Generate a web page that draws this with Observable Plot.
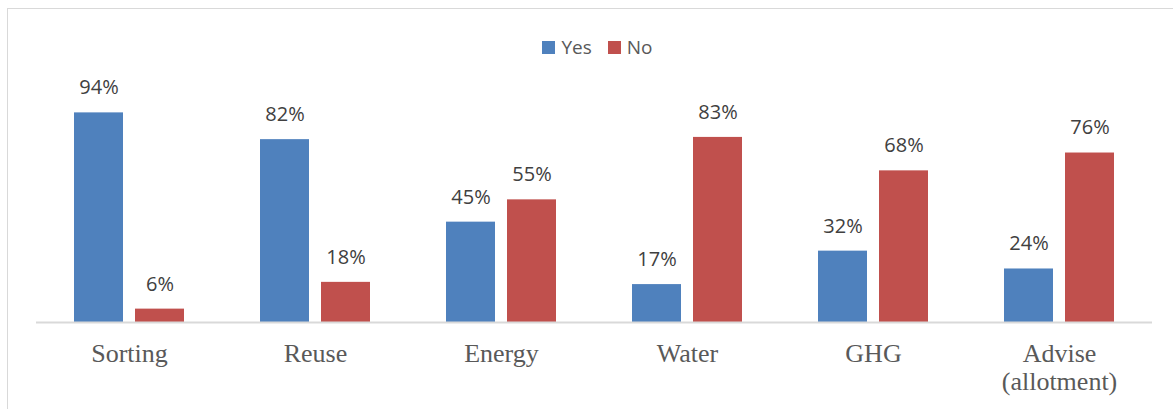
<!DOCTYPE html>
<html>
<head>
<meta charset="utf-8">
<script src="https://cdn.jsdelivr.net/npm/d3@7"></script>
<script src="https://cdn.jsdelivr.net/npm/@observablehq/plot@0.6"></script>
<style>
  html, body { margin: 0; padding: 0; background: #fff; }
  #wrap { position: relative; width: 1173px; height: 409px; overflow: hidden; }
  #frame { position: absolute; left: 7px; top: 8px; width: 1180px; height: 420px;
           border: 1.5px solid #d9d9d9; box-sizing: border-box; }
  #legend { position: absolute; top: 36px; left: 0; width: 1173px; display: flex;
            justify-content: center; gap: 16px; font-family: "Open Sans", sans-serif;
            font-size: 19px; color: #595959; line-height: 22px; padding-left: 22px; box-sizing: border-box; }
  #legend span.item { display: flex; align-items: center; gap: 6px; }
  #legend span.sw { width: 13px; height: 13px; display: inline-block; }
  #wrap svg { position: absolute; left: 0; top: 0; }
</style>
</head>
<body>
<div id="wrap">
  <div id="frame"></div>
  <div id="legend"></div>
</div>
<script>
// Survey responses by topic (percent answering Yes / No)
const categories = ["Sorting", "Reuse", "Energy", "Water", "GHG", "Advise\n(allotment)"];
const series = ["Yes", "No"];
const yesValues = [94, 82, 45, 17, 32, 24];
const noValues = [6, 18, 55, 83, 68, 76];
const seriesColors = ["#4f81bd", "#c0504d"];

const rows = categories.flatMap((c, i) => [
  {category: c, series: "Yes", value: yesValues[i]},
  {category: c, series: "No", value: noValues[i]}
]);

const chart = Plot.plot({
  width: 1173,
  height: 409,
  marginTop: 99,
  marginBottom: 87,
  marginLeft: 36,
  marginRight: 21,
  style: {background: "transparent", fontFamily: "Open Sans, sans-serif"},
  fx: {domain: categories, padding: 0, axis: null},
  x: {domain: series, paddingInner: 0.1935, paddingOuter: 0.5968, axis: null},
  y: {domain: [0, 100], axis: null},
  color: {domain: series, range: seriesColors},
  marks: [
    Plot.barY(rows, {fx: "category", x: "series", y: "value", fill: "series"}),
    Plot.ruleY([0], {stroke: "#d9d9d9", strokeWidth: 2}),
    Plot.text(rows, {
      fx: "category", x: "series", y: "value",
      text: d => d.value + "%", dy: -25,
      fontSize: 20, fill: "#404040", fontFamily: "Open Sans, sans-serif"
    }),
    Plot.text(categories, {
      fx: d => d, text: d => d, frameAnchor: "bottom", lineAnchor: "top",
      dy: 19, lineHeight: 1.1, fontSize: 26, fill: "#595959",
      fontFamily: "Liberation Serif, serif"
    })
  ]
});
document.getElementById("wrap").appendChild(chart);

// Legend
const legend = document.getElementById("legend");
series.forEach((s, i) => {
  const item = document.createElement("span");
  item.className = "item";
  const sw = document.createElement("span");
  sw.className = "sw";
  sw.style.background = seriesColors[i];
  const label = document.createElement("span");
  label.textContent = s;
  item.appendChild(sw);
  item.appendChild(label);
  legend.appendChild(item);
});
</script>
</body>
</html>
